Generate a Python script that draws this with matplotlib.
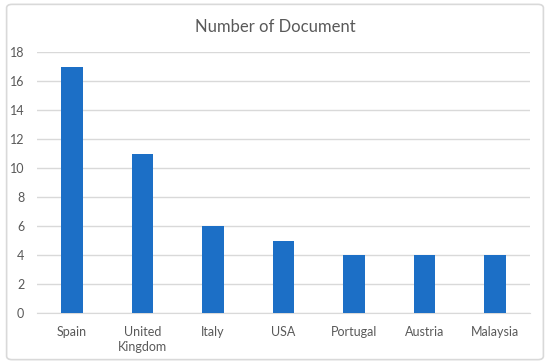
import matplotlib
matplotlib.use("Agg")
import matplotlib.pyplot as plt
from matplotlib.patches import FancyBboxPatch

categories = ["Spain", "United\nKingdom", "Italy", "USA", "Portugal", "Austria", "Malaysia"]
values = [17, 11, 6, 5, 4, 4, 4]
yticks = [0, 2, 4, 6, 8, 10, 12, 14, 16, 18]

plt.rcParams['font.family'] = ['Lato', 'DejaVu Sans']

fig = plt.figure(figsize=(5.5, 3.64), dpi=100)
fig.patch.set_facecolor('white')
border = FancyBboxPatch((0.012, 0.012), 0.976, 0.976, boxstyle="round,pad=0,rounding_size=0.01",
                        transform=fig.transFigure, facecolor='none', edgecolor='#d9d9d9',
                        linewidth=1.2, zorder=-1)
fig.patches.append(border)

ax = fig.add_axes([0.067, 0.14, 0.897, 0.717])
x = range(len(categories))
ax.bar(x, values, width=0.31, color='#1C6FC6', zorder=3)
ax.set_ylim(0, 18)
ax.set_xlim(-0.5, len(categories) - 0.5)
ax.set_yticks(yticks)
ax.set_xticks(list(x))
ax.set_xticklabels(categories, fontsize=9, color='#595959', linespacing=1.3)
ax.tick_params(axis='y', labelsize=9, labelcolor='#595959', length=0, pad=9)
ax.tick_params(axis='x', length=0, pad=9)
ax.grid(axis='y', color='#d9d9d9', linewidth=1, zorder=0)
for s in ['top', 'right', 'left']:
    ax.spines[s].set_visible(False)
ax.spines['bottom'].set_color('#d9d9d9')
ax.set_facecolor('none')
fig.text(0.5, 0.925, "Number of Document", ha='center', va='center', fontsize=12, color='#595959')
fig.savefig("out.png", dpi=100)
